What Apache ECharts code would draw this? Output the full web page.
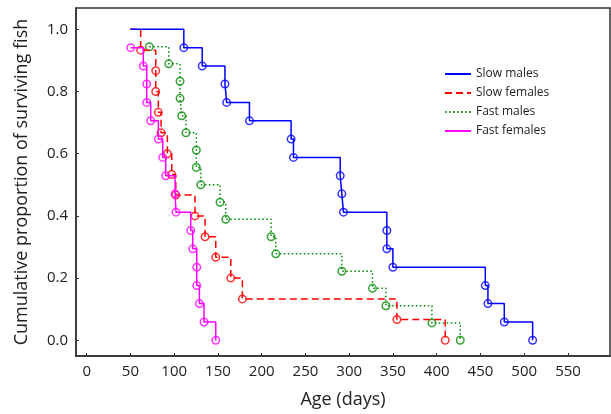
<!DOCTYPE html>
<html>
<head>
<meta charset="utf-8">
<script src="https://cdn.jsdelivr.net/npm/echarts@6/dist/echarts.min.js"></script>
<style>
  html, body { margin: 0; padding: 0; background: #fff; }
  #chart { width: 611px; height: 414px; }
</style>
</head>
<body>
<div id="chart"></div>
<script>
// Kaplan-Meier style survival steps (day, proportion surviving)
const slowMaleDays = [50, 111, 132, 158, 160, 186, 233.6, 236.3, 289.7, 291.6, 293.4, 343, 343, 349.9, 455.5, 458.5, 477.2, 509.6];
const slowMaleSurv = [1.0, 0.941, 0.882, 0.824, 0.765, 0.706, 0.647, 0.588, 0.529, 0.471, 0.412, 0.353, 0.294, 0.235, 0.176, 0.118, 0.059, 0.0];

const slowFemaleDays = [50, 61.7, 78.9, 78.9, 81.9, 85, 92.2, 97.2, 101.8, 123.8, 135.3, 147.5, 164.7, 177.9, 354.5, 409.7];
const slowFemaleSurv = [1.0, 0.933, 0.867, 0.8, 0.733, 0.667, 0.6, 0.533, 0.467, 0.4, 0.333, 0.267, 0.2, 0.133, 0.067, 0.0];

const fastMaleDays = [71.6, 93.8, 106.7, 106.7, 108.6, 113.5, 125.3, 125.3, 130.4, 152.4, 158.9, 210.7, 216.1, 291.6, 326.6, 341.9, 394.5, 426.9];
const fastMaleSurv = [0.944, 0.889, 0.833, 0.778, 0.722, 0.667, 0.611, 0.556, 0.5, 0.444, 0.389, 0.333, 0.278, 0.222, 0.167, 0.111, 0.056, 0.0];

const fastFemaleDays = [50.3, 64.7, 68.6, 68.6, 73.2, 81.9, 86.9, 90.3, 101, 102.1, 118.9, 121.2, 125.8, 125.8, 128.8, 134.1, 147.5];
const fastFemaleSurv = [0.941, 0.882, 0.824, 0.765, 0.706, 0.647, 0.588, 0.529, 0.471, 0.412, 0.353, 0.294, 0.235, 0.176, 0.118, 0.059, 0.0];

const xTicks = [0, 50, 100, 150, 200, 250, 300, 350, 400, 450, 500, 550];
const yTicks = [0, 0.2, 0.4, 0.6, 0.8, 1.0];

const groups = [
  { name: "Slow males", days: slowMaleDays, surv: slowMaleSurv, color: "#0000ff", type: "solid", z: 6 },
  { name: "Slow females", days: slowFemaleDays, surv: slowFemaleSurv, color: "#ff0000", type: [7, 4], z: 4 },
  { name: "Fast males", days: fastMaleDays, surv: fastMaleSurv, color: "#008a00", type: [1.5, 2.5], z: 3 },
  { name: "Fast females", days: fastFemaleDays, surv: fastFemaleSurv, color: "#ff00ff", type: "solid", z: 5 },
];

const font = "Open Sans";
const series = [];
groups.forEach(g => {
  const pts = g.days.map((d, i) => [d, g.surv[i]]);
  series.push({
    name: g.name,
    type: "line",
    step: "end",
    symbol: "none",
    z: g.z,
    lineStyle: { color: g.color, width: 1.5, type: g.type },
    itemStyle: { color: g.color },
    data: pts,
  });
  // markers at each death (start point at 1.0 has none)
  series.push({
    name: g.name + " events",
    type: "scatter",
    symbol: "circle",
    symbolSize: 7.5,
    z: g.z,
    itemStyle: { color: "rgba(0,0,0,0)", borderColor: g.color, borderWidth: 1.5 },
    data: pts.filter(p => p[1] < 1),
  });
});

const chart = echarts.init(document.getElementById("chart"), null, { renderer: "canvas" });
chart.setOption({
  animation: false,
  textStyle: { fontFamily: font },
  grid: {
    left: 76, right: 1, top: 8, bottom: 58,
    show: true, borderColor: "#333", borderWidth: 1.5,
  },
  legend: {
    data: groups.map(g => g.name),
    orient: "vertical",
    left: 439,
    top: 63,
    itemWidth: 26,
    itemHeight: 14,
    itemGap: 7,
    itemStyle: { opacity: 0 },
    textStyle: { fontFamily: font, fontSize: 12, color: "#222" },
  },
  xAxis: {
    type: "value",
    min: -12.2,
    max: 598,
    name: "Age (days)",
    nameLocation: "middle",
    nameGap: 35,
    nameTextStyle: { fontFamily: font, fontSize: 18, color: "#222" },
    axisLine: { show: true, onZero: false, lineStyle: { color: "#333", width: 1.5 } },
    axisTick: { show: true, inside: true, length: 3, customValues: xTicks, lineStyle: { color: "#333" } },
    axisLabel: { customValues: xTicks, fontFamily: font, fontSize: 15, color: "#222", margin: 8 },
    splitLine: { show: false },
  },
  yAxis: {
    type: "value",
    min: -0.0505,
    max: 1.0685,
    name: "Cumulative proportion of surviving fish",
    nameLocation: "middle",
    nameGap: 45,
    nameTextStyle: { fontFamily: font, fontSize: 18, color: "#222" },
    axisLine: { show: true, onZero: false, lineStyle: { color: "#333", width: 1.5 } },
    axisTick: { show: true, inside: true, length: 3, customValues: yTicks, lineStyle: { color: "#333" } },
    axisLabel: {
      customValues: yTicks,
      formatter: v => v.toFixed(1),
      fontFamily: font, fontSize: 15, color: "#222", margin: 8,
    },
    splitLine: { show: false },
  },
  series: series,
});
</script>
</body>
</html>
